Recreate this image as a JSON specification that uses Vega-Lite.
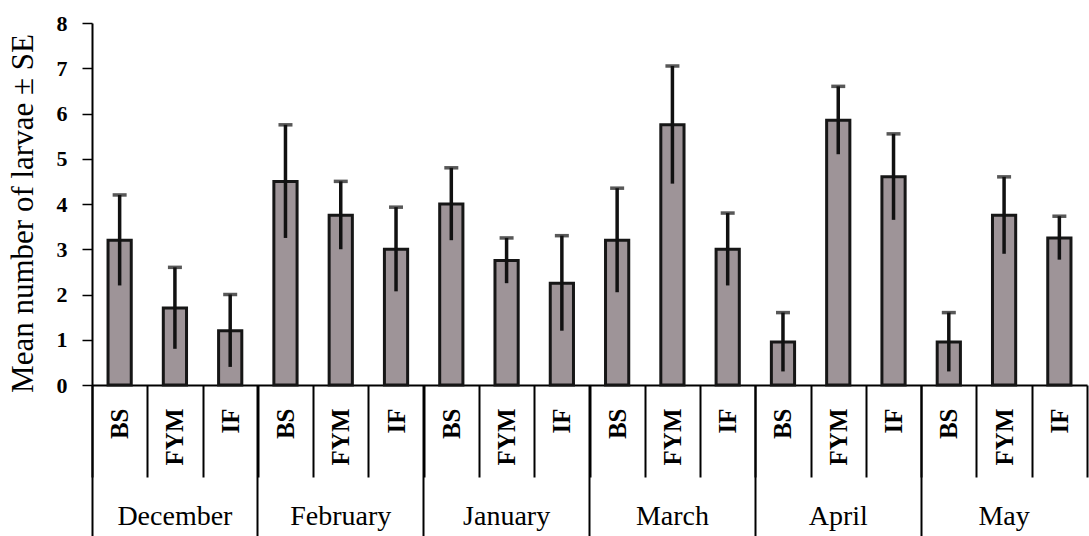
{
  "$schema": "https://vega.github.io/schema/vega-lite/v6.json",
  "autosize": "none",
  "width": 995,
  "height": 362,
  "padding": {"left": 92, "top": 23, "right": 2, "bottom": 151},
  "background": "white",
  "config": {"view": {"stroke": null}},
  "data": {
    "values": [
      {"k": "December|BS", "month": "December", "treatment": "BS", "mean": 3.2, "lower": 2.2, "upper": 4.2},
      {"k": "December|FYM", "month": "December", "treatment": "FYM", "mean": 1.7, "lower": 0.8, "upper": 2.6},
      {"k": "December|IF", "month": "December", "treatment": "IF", "mean": 1.2, "lower": 0.4, "upper": 2.0},
      {"k": "February|BS", "month": "February", "treatment": "BS", "mean": 4.5, "lower": 3.25, "upper": 5.75},
      {"k": "February|FYM", "month": "February", "treatment": "FYM", "mean": 3.75, "lower": 3.0, "upper": 4.5},
      {"k": "February|IF", "month": "February", "treatment": "IF", "mean": 3.0, "lower": 2.07, "upper": 3.93},
      {"k": "January|BS", "month": "January", "treatment": "BS", "mean": 4.0, "lower": 3.2, "upper": 4.8},
      {"k": "January|FYM", "month": "January", "treatment": "FYM", "mean": 2.75, "lower": 2.25, "upper": 3.25},
      {"k": "January|IF", "month": "January", "treatment": "IF", "mean": 2.25, "lower": 1.2, "upper": 3.3},
      {"k": "March|BS", "month": "March", "treatment": "BS", "mean": 3.2, "lower": 2.05, "upper": 4.35},
      {"k": "March|FYM", "month": "March", "treatment": "FYM", "mean": 5.75, "lower": 4.45, "upper": 7.05},
      {"k": "March|IF", "month": "March", "treatment": "IF", "mean": 3.0, "lower": 2.2, "upper": 3.8},
      {"k": "April|BS", "month": "April", "treatment": "BS", "mean": 0.95, "lower": 0.3, "upper": 1.6},
      {"k": "April|FYM", "month": "April", "treatment": "FYM", "mean": 5.85, "lower": 5.1, "upper": 6.6},
      {"k": "April|IF", "month": "April", "treatment": "IF", "mean": 4.6, "lower": 3.65, "upper": 5.55},
      {"k": "May|BS", "month": "May", "treatment": "BS", "mean": 0.95, "lower": 0.3, "upper": 1.6},
      {"k": "May|FYM", "month": "May", "treatment": "FYM", "mean": 3.75, "lower": 2.9, "upper": 4.6},
      {"k": "May|IF", "month": "May", "treatment": "IF", "mean": 3.25, "lower": 2.77, "upper": 3.73}
    ]
  },
  "resolve": {"axis": {"x": "independent"}},
  "layer": [
    {
      "mark": {"type": "bar", "fill": "#9e9498", "stroke": "#161616", "strokeWidth": 3, "width": {"band": 0.42}},
      "encoding": {
        "x": {
          "field": "k", "type": "nominal", "sort": null,
          "scale": {"paddingInner": 0, "paddingOuter": 0},
          "axis": {
            "orient": "bottom",
            "title": null,
            "labelExpr": "split(datum.value, '|')[1]",
            "labelAngle": -90,
            "labelFont": "Liberation Serif",
            "labelFontSize": 25,
            "labelFontWeight": "bold",
            "labelColor": "black",
            "labelPadding": -69,
            "tickBand": "extent",
            "tickSize": 92,
            "tickColor": "black",
            "tickWidth": 2,
            "domainColor": "black",
            "domainWidth": 2
          }
        },
        "y": {
          "field": "mean", "type": "quantitative",
          "scale": {"domain": [0, 8], "nice": false},
          "axis": {
            "title": "Mean number of larvae ± SE",
            "titleFont": "Liberation Serif",
            "titleFontSize": 31,
            "titleFontWeight": "normal",
            "titleColor": "black",
            "titlePadding": 17,
            "titleY": 190,
            "values": [0, 1, 2, 3, 4, 5, 6, 7, 8],
            "labelFont": "Liberation Serif",
            "labelFontSize": 22,
            "labelFontWeight": "bold",
            "labelColor": "black",
            "labelPadding": 15,
            "tickSize": 10,
            "tickColor": "black",
            "tickWidth": 1.5,
            "grid": false,
            "domainColor": "black",
            "domainWidth": 2
          }
        }
      }
    },
    {
      "mark": {"type": "rule", "color": "#111111", "strokeWidth": 3.5},
      "encoding": {
        "x": {
          "field": "k", "type": "nominal", "sort": null,
          "axis": {
            "orient": "bottom",
            "title": null,
            "values": ["December|BS", "February|BS", "January|BS", "March|BS", "April|BS", "May|BS"],
            "labels": false,
            "bandPosition": 0,
            "tickSize": 151,
            "tickColor": "black",
            "tickWidth": 2,
            "domain": false
          }
        },
        "y": {"field": "lower", "type": "quantitative"},
        "y2": {"field": "upper"}
      }
    },
    {
      "mark": {"type": "tick", "color": "#111111", "thickness": 3.5, "size": 14},
      "encoding": {
        "x": {
          "field": "k", "type": "nominal", "sort": null,
          "axis": {
            "orient": "bottom",
            "title": null,
            "values": ["December|FYM", "February|FYM", "January|FYM", "March|FYM", "April|FYM", "May|FYM"],
            "labelExpr": "split(datum.value, '|')[0]",
            "labelAngle": 0,
            "labelFont": "Liberation Serif",
            "labelFontSize": 28,
            "labelColor": "black",
            "labelBaseline": "top",
            "labelPadding": 117,
            "ticks": false,
            "domain": false
          }
        },
        "y": {"field": "upper", "type": "quantitative"}
      }
    }
  ]
}
